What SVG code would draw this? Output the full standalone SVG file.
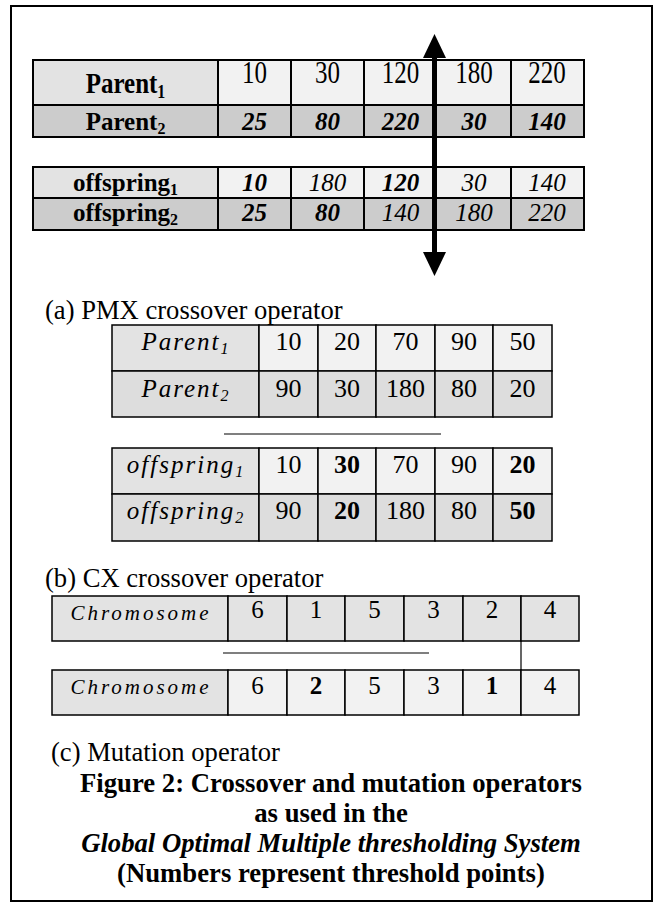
<svg xmlns="http://www.w3.org/2000/svg" width="657" height="904" viewBox="0 0 657 904">
  <style>
    text { font-family: "Liberation Serif", "Times New Roman", serif; fill: #000; }
    .c { text-anchor: middle; }
    .b { font-weight: bold; }
    .i { font-style: italic; }
    .f25 { font-size: 25px; }
    .f26 { font-size: 26px; }
    .f24 { font-size: 25px; }
    .lbl { font-size: 26.6px; }
    .cap { font-size: 26.7px; font-weight: bold; text-anchor: middle; }
    .ls { letter-spacing: 2px; }
    .ls3 { letter-spacing: 3px; font-size: 21px; }
    .thick { stroke: #000; stroke-width: 2; }
    .mid { stroke: #000; stroke-width: 1.5; }
    .thin { stroke: #000; stroke-width: 1.2; fill: none; }
    .g1 { fill: #e3e3e3; }
    .g2 { fill: #f2f2f2; }
    .g3 { fill: #cccccc; }
    .g4 { fill: #dddddd; }
  </style>
  <defs>
    <marker id="head" markerUnits="userSpaceOnUse" markerWidth="24" markerHeight="24" refX="0" refY="11.5" orient="auto-start-reverse">
      <path d="M0,0 L24,11.5 L0,23 z" fill="#000"/>
    </marker>
  </defs>

  <!-- outer frame -->
  <rect x="11" y="6" width="641" height="895" fill="#fff" stroke="#000" stroke-width="2"/>

  <!-- PMX parents (top) -->
  <g id="pmx-parents">
    <rect class="g1 thick" x="33" y="60" width="185" height="45"/>
    <rect class="g2 thick" x="218" y="60" width="73" height="45"/>
    <rect class="g2 thick" x="291" y="60" width="73" height="45"/>
    <rect class="g2 thick" x="364" y="60" width="71" height="45"/>
    <rect class="g2 thick" x="435" y="60" width="76" height="45"/>
    <rect class="g2 thick" x="511" y="60" width="73" height="45"/>
    <rect class="g3 thick" x="33" y="105" width="185" height="32"/>
    <rect class="g3 thick" x="218" y="105" width="73" height="32"/>
    <rect class="g3 thick" x="291" y="105" width="73" height="32"/>
    <rect class="g3 thick" x="364" y="105" width="71" height="32"/>
    <rect class="g3 thick" x="435" y="105" width="76" height="32"/>
    <rect class="g3 thick" x="511" y="105" width="73" height="32"/>
    <text class="c b f25" transform="translate(125.5,93) scale(1,1.15)">Parent<tspan dy="4" font-size="16">1</tspan></text>
    <text class="c f25" transform="translate(254.5,83) scale(1,1.28)">10</text>
    <text class="c f25" transform="translate(327.5,83) scale(1,1.28)">30</text>
    <text class="c f25" transform="translate(400.5,83) scale(1,1.28)">120</text>
    <text class="c f25" transform="translate(474,83) scale(1,1.28)">180</text>
    <text class="c f25" transform="translate(547,83) scale(1,1.28)">220</text>
    <text class="c b f25" x="125.5" y="130">Parent<tspan dy="4" font-size="16">2</tspan></text>
    <text class="c b i f25" x="254.5" y="130">25</text>
    <text class="c b i f25" x="327.5" y="130">80</text>
    <text class="c b i f25" x="400.5" y="130">220</text>
    <text class="c b i f25" x="474" y="130">30</text>
    <text class="c b i f25" x="547" y="130">140</text>
  </g>

  <!-- PMX offspring (top) -->
  <g id="pmx-offspring">
    <rect class="g1 thick" x="33" y="167" width="185" height="31"/>
    <rect class="g2 thick" x="218" y="167" width="73" height="31"/>
    <rect class="g2 thick" x="291" y="167" width="73" height="31"/>
    <rect class="g2 thick" x="364" y="167" width="71" height="31"/>
    <rect class="g2 thick" x="435" y="167" width="76" height="31"/>
    <rect class="g2 thick" x="511" y="167" width="73" height="31"/>
    <rect class="g3 thick" x="33" y="198" width="185" height="32"/>
    <rect class="g3 thick" x="218" y="198" width="73" height="32"/>
    <rect class="g3 thick" x="291" y="198" width="73" height="32"/>
    <rect class="g3 thick" x="364" y="198" width="71" height="32"/>
    <rect class="g3 thick" x="435" y="198" width="76" height="32"/>
    <rect class="g3 thick" x="511" y="198" width="73" height="32"/>
    <text class="c b f25" x="125.5" y="191">offspring<tspan dy="4" font-size="16">1</tspan></text>
    <text class="c b i f25" x="254.5" y="191">10</text>
    <text class="c i f25" x="327.5" y="191">180</text>
    <text class="c b i f25" x="400.5" y="191">120</text>
    <text class="c i f25" x="474" y="191">30</text>
    <text class="c i f25" x="547" y="191">140</text>
    <text class="c b f25" x="125.5" y="221">offspring<tspan dy="4" font-size="16">2</tspan></text>
    <text class="c b i f25" x="254.5" y="221">25</text>
    <text class="c b i f25" x="327.5" y="221">80</text>
    <text class="c i f25" x="400.5" y="221">140</text>
    <text class="c i f25" x="474" y="221">180</text>
    <text class="c i f25" x="547" y="221">220</text>
  </g>

  <!-- crossover cut arrow and separator rules -->
  <g id="connectors">
    <line x1="434.5" y1="58" x2="434.5" y2="252" stroke="#000" stroke-width="5" marker-start="url(#head)" marker-end="url(#head)"/>
    <line class="thin" x1="224" y1="434" x2="441" y2="434"/>
    <line class="thin" x1="223" y1="653" x2="429" y2="653"/>
    <line class="thin" x1="521" y1="641" x2="521" y2="670"/>
  </g>

  <text class="lbl" x="45" y="319">(a) PMX crossover operator</text>

  <!-- PMX parents -->
  <g id="cx-parents">
    <rect class="g1 mid" x="112" y="325" width="147" height="46"/>
    <rect class="g2 mid" x="259" y="325" width="59" height="46"/>
    <rect class="g2 mid" x="318" y="325" width="58" height="46"/>
    <rect class="g2 mid" x="376" y="325" width="59" height="46"/>
    <rect class="g2 mid" x="435" y="325" width="58" height="46"/>
    <rect class="g2 mid" x="493" y="325" width="59" height="46"/>
    <rect class="g4 mid" x="112" y="371" width="147" height="46"/>
    <rect class="g4 mid" x="259" y="371" width="59" height="46"/>
    <rect class="g4 mid" x="318" y="371" width="58" height="46"/>
    <rect class="g4 mid" x="376" y="371" width="59" height="46"/>
    <rect class="g4 mid" x="435" y="371" width="58" height="46"/>
    <rect class="g4 mid" x="493" y="371" width="59" height="46"/>
    <text class="c i f25 ls" x="186" y="350">Parent<tspan dy="4" font-size="16">1</tspan></text>
    <text class="c f26" x="288.5" y="350">10</text>
    <text class="c f26" x="347" y="350">20</text>
    <text class="c f26" x="405.5" y="350">70</text>
    <text class="c f26" x="464" y="350">90</text>
    <text class="c f26" x="522.5" y="350">50</text>
    <text class="c i f25 ls" x="186" y="397">Parent<tspan dy="4" font-size="16">2</tspan></text>
    <text class="c f26" x="288.5" y="397">90</text>
    <text class="c f26" x="347" y="397">30</text>
    <text class="c f26" x="405.5" y="397">180</text>
    <text class="c f26" x="464" y="397">80</text>
    <text class="c f26" x="522.5" y="397">20</text>
  </g>

  <!-- PMX offspring -->
  <g id="cx-offspring">
    <rect class="g1 mid" x="112" y="448" width="147" height="46"/>
    <rect class="g2 mid" x="259" y="448" width="59" height="46"/>
    <rect class="g2 mid" x="318" y="448" width="58" height="46"/>
    <rect class="g2 mid" x="376" y="448" width="59" height="46"/>
    <rect class="g2 mid" x="435" y="448" width="58" height="46"/>
    <rect class="g2 mid" x="493" y="448" width="59" height="46"/>
    <rect class="g4 mid" x="112" y="494" width="147" height="47"/>
    <rect class="g4 mid" x="259" y="494" width="59" height="47"/>
    <rect class="g4 mid" x="318" y="494" width="58" height="47"/>
    <rect class="g4 mid" x="376" y="494" width="59" height="47"/>
    <rect class="g4 mid" x="435" y="494" width="58" height="47"/>
    <rect class="g4 mid" x="493" y="494" width="59" height="47"/>
    <text class="c i f25 ls" x="186" y="473">offspring<tspan dy="4" font-size="16">1</tspan></text>
    <text class="c f26" x="288.5" y="473">10</text>
    <text class="c b f26" x="347" y="473">30</text>
    <text class="c f26" x="405.5" y="473">70</text>
    <text class="c f26" x="464" y="473">90</text>
    <text class="c b f26" x="522.5" y="473">20</text>
    <text class="c i f25 ls" x="186" y="519">offspring<tspan dy="4" font-size="16">2</tspan></text>
    <text class="c f26" x="288.5" y="519">90</text>
    <text class="c b f26" x="347" y="519">20</text>
    <text class="c f26" x="405.5" y="519">180</text>
    <text class="c f26" x="464" y="519">80</text>
    <text class="c b f26" x="522.5" y="519">50</text>
  </g>

  <text class="lbl" x="45" y="587">(b) CX crossover operator</text>

  <!-- chromosome before mutation -->
  <g id="chromosome-before">
    <rect class="g1 mid" x="52" y="596" width="176" height="45"/>
    <rect class="g1 mid" x="228" y="596" width="59" height="45"/>
    <rect class="g1 mid" x="287" y="596" width="58" height="45"/>
    <rect class="g1 mid" x="345" y="596" width="59" height="45"/>
    <rect class="g1 mid" x="404" y="596" width="59" height="45"/>
    <rect class="g1 mid" x="463" y="596" width="58" height="45"/>
    <rect class="g1 mid" x="521" y="596" width="58" height="45"/>
    <text class="c i ls3" x="141" y="620">Chromosome</text>
    <text class="c f24" x="257.5" y="618">6</text>
    <text class="c f24" x="316" y="618">1</text>
    <text class="c f24" x="374.5" y="618">5</text>
    <text class="c f24" x="433.5" y="618">3</text>
    <text class="c f24" x="492" y="618">2</text>
    <text class="c f24" x="550" y="618">4</text>
  </g>

  <!-- chromosome after mutation -->
  <g id="chromosome-after">
    <rect class="g1 mid" x="52" y="670" width="176" height="45"/>
    <rect class="g2 mid" x="228" y="670" width="59" height="45"/>
    <rect class="g2 mid" x="287" y="670" width="58" height="45"/>
    <rect class="g2 mid" x="345" y="670" width="59" height="45"/>
    <rect class="g2 mid" x="404" y="670" width="59" height="45"/>
    <rect class="g2 mid" x="463" y="670" width="58" height="45"/>
    <rect class="g2 mid" x="521" y="670" width="58" height="45"/>
    <text class="c i ls3" x="141" y="694">Chromosome</text>
    <text class="c f24" x="257.5" y="694">6</text>
    <text class="c b f24" x="316" y="694">2</text>
    <text class="c f24" x="374.5" y="694">5</text>
    <text class="c f24" x="433.5" y="694">3</text>
    <text class="c b f24" x="492" y="694">1</text>
    <text class="c f24" x="550" y="694">4</text>
  </g>

  <text class="lbl" x="51" y="761">(c) Mutation operator</text>

  <!-- caption -->
  <g id="caption">
    <text class="cap" x="331" y="792">Figure 2: Crossover and mutation operators</text>
    <text class="cap" x="331" y="822">as used in the</text>
    <text class="cap i" x="331" y="852">Global Optimal Multiple thresholding System</text>
    <text class="cap" x="331" y="882">(Numbers represent threshold points)</text>
  </g>
</svg>
